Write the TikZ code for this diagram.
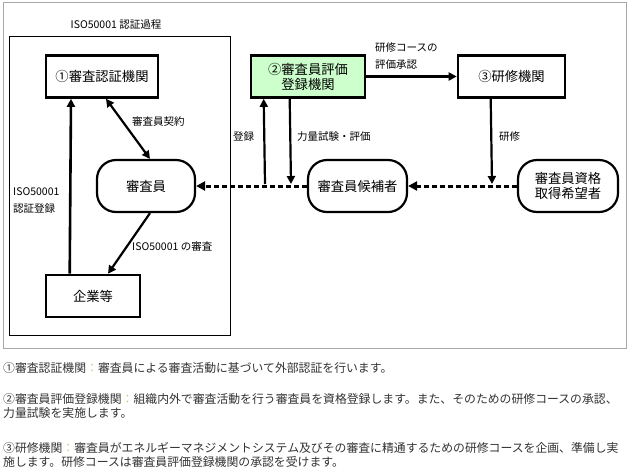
\documentclass[tikz,border=0pt]{standalone}
\usepackage{fontspec}
\newfontfamily\jp{Noto Sans CJK JP}
\usetikzlibrary{arrows.meta}
\definecolor{boxgreen}{HTML}{CCFFCC}
\definecolor{frame}{HTML}{A8A8A8}
\definecolor{colon}{HTML}{D8C48C}
\definecolor{bodytext}{HTML}{333333}
\begin{document}
\begin{tikzpicture}[x=1pt,y=-1pt,
  font=\jp,
  org/.style={draw, line width=2.6pt, minimum height=42pt, inner sep=0pt, align=center, font=\jp\fontsize{13.3}{15}\selectfont},
  person/.style={draw, line width=2.2pt, rounded corners=19pt, minimum height=52pt, inner sep=0pt, align=center, font=\jp\fontsize{13.3}{15}\selectfont},
  lbl/.style={font=\jp\fontsize{10.5}{17}\selectfont, inner sep=0pt, align=left},
  solidarrow/.style={line width=2.6pt, -{Triangle[length=8pt,width=8pt]}},
  dotarrow/.style={line width=3pt, dash pattern=on 5pt off 3pt, -{Triangle[length=9pt,width=9pt]}},
  para/.style={anchor=north west, inner sep=0pt, align=left, text=bodytext, font=\jp\fontsize{11.85}{14}\selectfont}
]
\useasboundingbox (0,0) rectangle (634,472);
\fill[white] (0,0) rectangle (634,472);
% frames
\draw[frame, line width=1pt] (3,2) rectangle (626,348);
\draw[line width=0.8pt] (9,36) rectangle (230,335);
\node[lbl] (title) at (116,25) {ISO50001 認証過程};

% organisations
\node[org, minimum width=112pt] (n1) at (102,76.5) {①審査認証機関};
\node[org, minimum width=114pt, fill=boxgreen] (n2) at (308,76.5) {②審査員評価\\登録機関};
\node[org, minimum width=107pt] (n3) at (511.5,76.5) {③研修機関};
\node[org, minimum width=94pt] (company) at (93,296) {企業等};

% persons
\node[person, minimum width=98pt] (auditor) at (146,186) {審査員};
\node[person, minimum width=99pt] (cand) at (357.5,186) {審査員候補者};
\node[person, minimum width=100pt] (hope) at (568,186) {審査員資格\\取得希望者};

\coordinate (regfoot) at (265,184);
\coordinate (evalfoot) at (291,184);
\coordinate (trainfoot) at (492,184);

% dashed flow
\draw[dotarrow] (hope.west) -- (cand.east);
\draw[dotarrow] (cand.west) -- (auditor.east);

% solid arrows
\draw[solidarrow] ([xshift=25pt]company.north west) -- ([xshift=-31pt]n1.south);
\draw[line width=2.2pt, {Triangle[length=8pt,width=8pt]}-{Triangle[length=8pt,width=8pt]}] ([xshift=4pt]n1.south) -- ([xshift=4pt]auditor.north);
\draw[line width=2.2pt, -{Triangle[length=8pt,width=8pt]}] ([xshift=4pt]auditor.south) -- ([xshift=15pt]company.north);
\draw[solidarrow, line width=2.2pt] (regfoot) -- ([xshift=14pt]n2.south west);
\draw[solidarrow, line width=2.2pt] ([xshift=40pt]n2.south west) -- (evalfoot);
\draw[solidarrow] (n2.east) -- (n3.west);
\draw[solidarrow, line width=2.2pt] ([xshift=34pt]n3.south west) -- (trainfoot);

% labels
\node[lbl, anchor=west] (l1) at (132,122) {審査員契約};
\node[lbl, anchor=west] (l2) at (132,246) {ISO50001 の審査};
\node[lbl, anchor=west] (l3) at (13,200) {ISO50001\\認証登録};
\node[lbl, anchor=west] (l4) at (233,137) {登録};
\node[lbl, anchor=west] (l5) at (297,137) {力量試験・評価};
\node[lbl, anchor=west] (l6) at (375,56) {研修コースの\\評価承認};
\node[lbl, anchor=west] (l7) at (499,137) {研修};

% description
\node[para] (p1) at (3,362) {①審査認証機関\textcolor{colon}{：}審査員による審査活動に基づいて外部認証を行います。};
\node[para] (p2) at (3,393) {②審査員評価登録機関\textcolor{colon}{：}組織内外で審査活動を行う審査員を資格登録します。また、そのための研修コースの承認、\\力量試験を実施します。};
\node[para] (p3) at (3,442) {③研修機関\textcolor{colon}{：}審査員がエネルギーマネジメントシステム及びその審査に精通するための研修コースを企画、準備し実\\施します。研修コースは審査員評価登録機関の承認を受けます。};
\end{tikzpicture}
\end{document}
